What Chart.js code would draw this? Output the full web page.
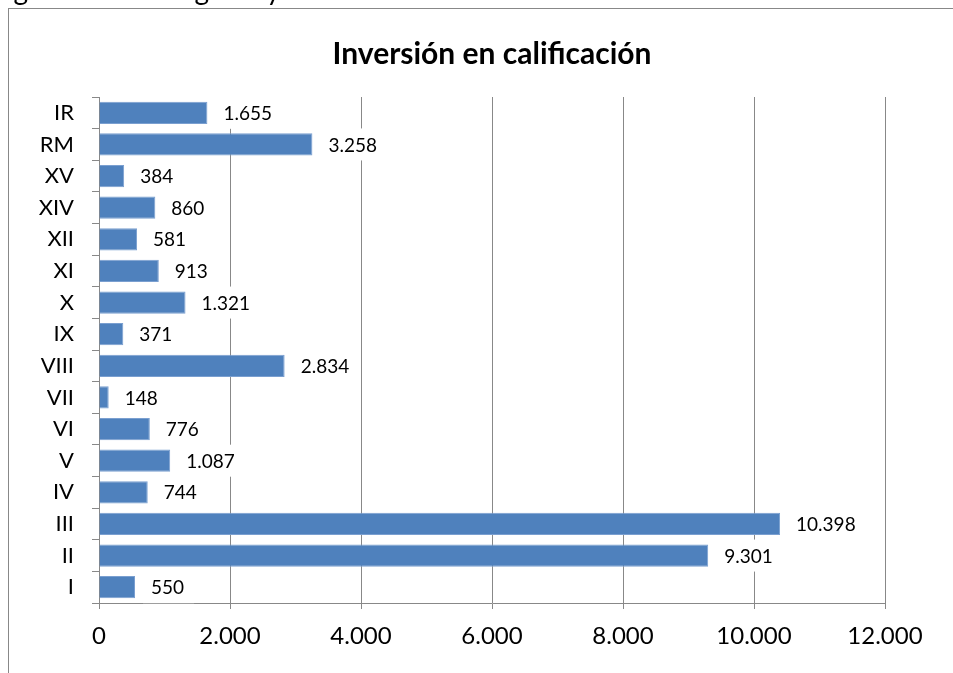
<!DOCTYPE html>
<html>
<head>
<meta charset="utf-8">
<script src="https://cdn.jsdelivr.net/npm/chart.js@4/dist/chart.umd.min.js"></script>
<style>
  body { margin: 0; background: #fff; }
  #wrap { width: 953px; height: 673px; }
</style>
</head>
<body>
<div id="wrap"><canvas id="myChart" width="953" height="673"></canvas></div>
<script>
const categories = ["IR", "RM", "XV", "XIV", "XII", "XI", "X", "IX", "VIII", "VII", "VI", "V", "IV", "III", "II", "I"];
const inversion = [1655, 3258, 384, 860, 581, 913, 1321, 371, 2834, 148, 776, 1087, 744, 10398, 9301, 550];
const xMin = 0;
const xMax = 12000;
const xStep = 2000;
const chartTitle = "Inversión en calificación";
const pageHeading = "Región de Antofagasta y Atacama";

const FONT = "Lato, 'Open Sans', sans-serif";
const GRID = "#888888";

function fmt(v) {
  return String(v).replace(/\B(?=(\d{3})+(?!\d))/g, ".");
}

// frame and the clipped heading above it
const framePlugin = {
  id: "frame",
  beforeDraw(chart) {
    const ctx = chart.ctx;
    ctx.save();
    ctx.fillStyle = "#fff";
    ctx.fillRect(0, 0, chart.width, chart.height);
    ctx.font = "28px " + FONT;
    ctx.fillStyle = "#000";
    ctx.textBaseline = "alphabetic";
    ctx.fillText(pageHeading, -18, 0);
    ctx.strokeStyle = GRID;
    ctx.lineWidth = 1;
    ctx.strokeRect(8.5, 8.5, chart.width + 10, chart.height + 10);
    ctx.restore();
  }
};

// value labels on a white box, like the spreadsheet chart
const valueLabels = {
  id: "valueLabels",
  afterDatasetsDraw(chart) {
    const ctx = chart.ctx;
    const meta = chart.getDatasetMeta(0);
    ctx.save();
    ctx.font = "19px " + FONT;
    ctx.textBaseline = "middle";
    meta.data.forEach((bar, i) => {
      const txt = fmt(chart.data.datasets[0].data[i]);
      const w = ctx.measureText(txt).width;
      ctx.fillStyle = "#fff";
      ctx.fillRect(bar.x + 8, bar.y - 16, w + 18, 32);
      ctx.fillStyle = "#000";
      ctx.fillText(txt, bar.x + 16, bar.y + 1);
    });
    ctx.restore();
  }
};

const ctx = document.getElementById("myChart").getContext("2d");

const myChart = new Chart(ctx, {
  type: "bar",
  data: {
    labels: categories,
    datasets: [
      {
        label: "Inversión",
        data: inversion,
        backgroundColor: "#4f81bd",
        borderColor: "#7a9fd0",
        borderWidth: 1,
        barPercentage: 0.7,
        categoryPercentage: 1
      }
    ]
  },
  options: {
    indexAxis: "y",
    responsive: false,
    animation: false,
    layout: {
      padding: { left: 0, right: 68, top: 0, bottom: 0 }
    },
    plugins: {
      legend: { display: false },
      tooltip: { enabled: false },
      title: {
        display: true,
        fullSize: false,
        text: chartTitle,
        color: "#000",
        font: { family: FONT, size: 30, weight: "bold" },
        padding: { top: 36, bottom: 25 }
      }
    },
    scales: {
      x: {
        min: xMin,
        max: xMax,
        ticks: {
          stepSize: xStep,
          color: "#000",
          font: { family: FONT, size: 24 },
          padding: 13,
          callback: (v) => fmt(v)
        },
        grid: {
          color: GRID,
          tickLength: 6,
          drawOnChartArea: true
        },
        border: { color: GRID },
        afterFit(scale) { scale.height = 70; }
      },
      y: {
        ticks: {
          color: "#000",
          font: { family: FONT, size: 22 },
          padding: 18
        },
        grid: {
          color: GRID,
          tickLength: 7,
          drawOnChartArea: false,
          offset: true
        },
        border: { color: GRID },
        afterFit(scale) { scale.width = 99; }
      }
    }
  },
  plugins: [framePlugin, valueLabels]
});
</script>
</body>
</html>
